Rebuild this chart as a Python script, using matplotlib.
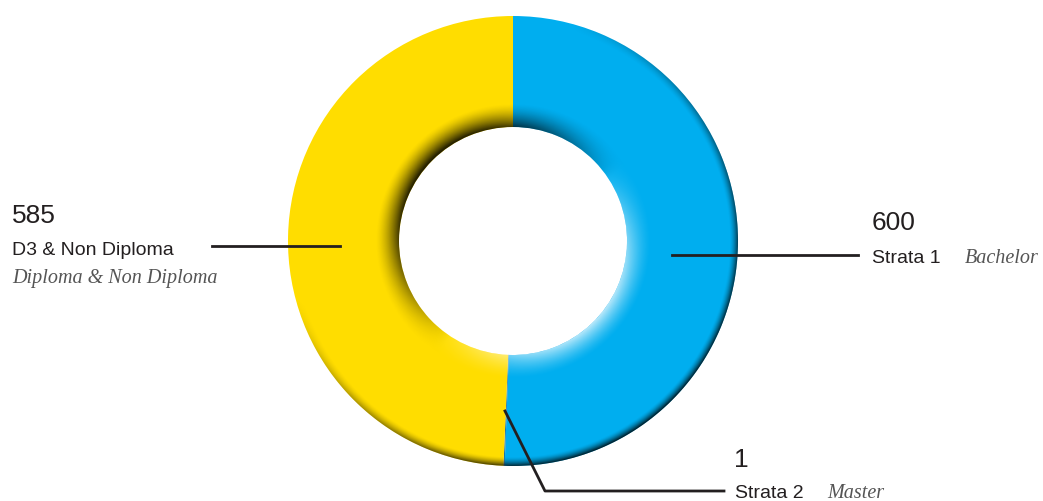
import matplotlib.pyplot as plt
import numpy as np
from matplotlib.patches import Wedge

# data
labels = ["Strata 1", "Strata 2", "D3 & Non Diploma"]
subs = ["Bachelor", "Master", "Diploma & Non Diploma"]
values = [600, 1, 585]
colors = ["#00aeef", "#1b75a8", "#ffdd00"]

W, H = 1043, 502
fig = plt.figure(figsize=(W / 100, H / 100), dpi=100)
ax = fig.add_axes([0, 0, 1, 1])

cx, cy = 513, H - 242
R, r0 = 225, 114
wedges, _ = ax.pie(values, colors=colors, startangle=90, counterclock=False,
                   center=(cx, cy), radius=R, frame=False,
                   wedgeprops=dict(width=R - r0, linewidth=0))

# bevel shading
xs = np.linspace(cx - R, cx + R, 500)
ys = np.linspace(cy - R, cy + R, 500)
X, Y = np.meshgrid(xs, ys)
dx, dy = X - cx, Y - cy
rr = np.hypot(dx, dy)
ang = np.arctan2(dy, dx)
# light from upper-left
lt = np.cos(ang - np.deg2rad(135))
outer = np.clip((rr - (R - 9)) / 9, 0, 1) ** 1.6 * np.clip(-lt + 0.5, 0, 1.5)
inner = np.clip(1 - (rr - r0) / 24, 0, 1) ** 1.5
inner_dark = inner * np.clip(lt + 0.2, 0, 1.2)
inner_light = inner * np.clip(-lt - 0.1, 0, 1)
img = np.zeros(X.shape + (4,))
a_dark = np.clip(0.6 * outer + 0.8 * inner_dark, 0, 0.85)
a_light = np.clip(0.8 * inner_light, 0, 0.8)
img[..., :3] = (a_light / np.maximum(a_dark + a_light, 1e-6))[..., None]
img[..., 3] = np.clip(a_dark + a_light, 0, 0.9)
ring = Wedge((cx, cy), R, 0, 360, width=R - r0, transform=ax.transData)
im = ax.imshow(img, extent=(cx - R, cx + R, cy - R, cy + R), origin="lower",
               interpolation="bilinear", zorder=3)
im.set_clip_path(ring)

sans = "Liberation Sans"
serif = "Liberation Serif"
ink = "#231f20"
grey = "#555555"
lw = 2
big, mid, ital = 19, 14, 14.5

# left label (D3 & Non Diploma)
ax.plot([212, 340], [H - 247, H - 247], color=ink, lw=lw, zorder=4)
ax.text(12, H - 223, str(values[2]), fontsize=big, family=sans, color=ink, va="baseline")
ax.text(12, H - 255, labels[2], fontsize=mid, family=sans, color=ink, va="baseline")
ax.text(12, H - 283, subs[2], fontsize=ital, family=serif, style="italic",
        color=grey, va="baseline")

# right label (Strata 1)
ax.plot([672, 858], [H - 256, H - 256], color=ink, lw=lw, zorder=4)
ax.text(872, H - 230, str(values[0]), fontsize=big, family=sans, color=ink, va="baseline")
ax.text(872, H - 263, labels[0], fontsize=mid, family=sans, color=ink, va="baseline")
ax.text(965, H - 263, subs[0], fontsize=ital, family=serif, style="italic",
        color=grey, va="baseline")

# bottom label (Strata 2)
ax.plot([505, 545, 724], [H - 412, H - 492, H - 492], color=ink, lw=lw, zorder=4)
ax.text(734, H - 467, str(values[1]), fontsize=big, family=sans, color=ink, va="baseline")
ax.text(735, H - 498, labels[1], fontsize=mid, family=sans, color=ink, va="baseline")
ax.text(827, H - 498, subs[1], fontsize=ital, family=serif, style="italic",
        color=grey, va="baseline")

ax.set_xlim(0, W)
ax.set_ylim(0, H)
ax.set_aspect("equal")
ax.axis("off")

fig.savefig("out.png", dpi=100, facecolor="white")
